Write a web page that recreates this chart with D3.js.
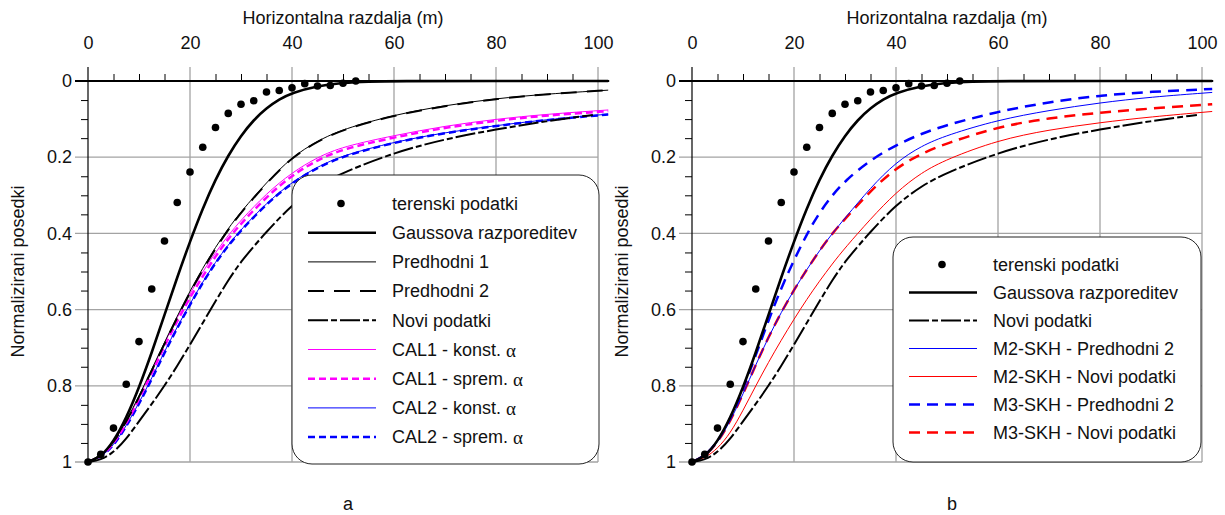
<!DOCTYPE html>
<html>
<head>
<meta charset="utf-8">
<script src="https://cdn.jsdelivr.net/npm/d3@7"></script>
<style>
body { margin: 0; background: #fff; }
text { font-family: "Liberation Sans", Arial, sans-serif; font-size: 18px; fill: #111; }
</style>
</head>
<body>
<svg id="chart" width="1225" height="515"></svg>
<script>
// ticks
var xTicks = [0, 20, 40, 60, 80, 100];
var yTicks = [0, 0.2, 0.4, 0.6, 0.8, 1];
var yTickLabels = ["0", "0.2", "0.4", "0.6", "0.8", "1"];

// terenski podatki
var fieldX = [0, 2.5, 5, 7.5, 10, 12.5, 15, 17.5, 20, 22.5, 25, 27.5, 30, 32.5, 35, 37.5, 40, 42.5, 45, 47.5, 50, 52.5];
var fieldY = [1, 0.98, 0.911, 0.796, 0.684, 0.546, 0.42, 0.319, 0.239, 0.174, 0.122, 0.085, 0.061, 0.052, 0.029, 0.025, 0.018, 0.007, 0.013, 0.012, 0.006, 0];

// Gaussova razporeditev
var gaussX = [0, 2.5, 5, 7.5, 10, 12.5, 15, 17.5, 20, 22.5, 25, 27.5, 30, 32.5, 35, 37.5, 40, 45, 50, 55, 60, 80, 102];
var gaussY = [1, 0.987, 0.947, 0.885, 0.805, 0.713, 0.614, 0.515, 0.421, 0.334, 0.258, 0.195, 0.143, 0.102, 0.071, 0.048, 0.031, 0.0125, 0.0045, 0.0014, 0, 0, 0];

// common x for the other curves
var curveX = [0, 2.5, 5, 7.5, 10, 12.5, 15, 17.5, 20, 22.5, 25, 27.5, 30, 35, 40, 45, 50, 60, 70, 80, 90, 102];
var noviX = [0, 2.5, 5, 7.5, 10, 12.5, 15, 17.5, 20, 22.5, 25, 27.5, 30, 35, 40, 45, 50, 60, 70, 80, 90, 99];

var pred1Y = [1, 0.985, 0.95, 0.893, 0.827, 0.756, 0.686, 0.617, 0.551, 0.491, 0.436, 0.387, 0.343, 0.266, 0.199, 0.157, 0.126, 0.089, 0.064, 0.046, 0.034, 0.024];
var pred2Y = [1, 0.985, 0.95, 0.895, 0.83, 0.76, 0.69, 0.62, 0.555, 0.495, 0.44, 0.39, 0.345, 0.268, 0.2, 0.158, 0.127, 0.09, 0.065, 0.047, 0.034, 0.024];
var noviY = [1, 0.995, 0.975, 0.94, 0.893, 0.848, 0.8, 0.748, 0.692, 0.635, 0.578, 0.523, 0.473, 0.395, 0.325, 0.275, 0.24, 0.188, 0.152, 0.127, 0.105, 0.089];
var cal1KonstY = [1, 0.985, 0.95, 0.895, 0.83, 0.76, 0.687, 0.62, 0.558, 0.5, 0.45, 0.405, 0.365, 0.295, 0.24, 0.2, 0.172, 0.143, 0.118, 0.1, 0.087, 0.076];
var cal1SpremY = [1, 0.987, 0.953, 0.9, 0.835, 0.767, 0.695, 0.63, 0.568, 0.512, 0.46, 0.414, 0.374, 0.304, 0.247, 0.207, 0.178, 0.148, 0.122, 0.104, 0.09, 0.079];
var cal2KonstY = [1, 0.988, 0.957, 0.905, 0.845, 0.78, 0.71, 0.645, 0.585, 0.527, 0.475, 0.43, 0.39, 0.32, 0.265, 0.225, 0.195, 0.16, 0.135, 0.117, 0.101, 0.087];
var cal2SpremY = [1, 0.988, 0.958, 0.907, 0.848, 0.783, 0.713, 0.648, 0.587, 0.529, 0.477, 0.432, 0.392, 0.322, 0.267, 0.227, 0.197, 0.161, 0.136, 0.118, 0.102, 0.088];

var m2PredY = [1, 0.985, 0.95, 0.893, 0.822, 0.745, 0.672, 0.607, 0.548, 0.495, 0.445, 0.4, 0.36, 0.28, 0.213, 0.17, 0.142, 0.102, 0.077, 0.057, 0.042, 0.03];
var m2NoviY = [1, 0.99, 0.965, 0.925, 0.865, 0.8, 0.738, 0.68, 0.625, 0.573, 0.525, 0.48, 0.438, 0.362, 0.292, 0.24, 0.205, 0.155, 0.128, 0.109, 0.094, 0.08];
var m3PredY = [1, 0.985, 0.948, 0.888, 0.81, 0.72, 0.628, 0.543, 0.47, 0.402, 0.345, 0.3, 0.262, 0.207, 0.168, 0.138, 0.115, 0.08, 0.055, 0.038, 0.028, 0.021];
var m3NoviY = [1, 0.985, 0.95, 0.893, 0.822, 0.745, 0.672, 0.607, 0.548, 0.495, 0.445, 0.4, 0.362, 0.288, 0.228, 0.19, 0.163, 0.12, 0.097, 0.083, 0.072, 0.061];

var leftNames = ["terenski podatki", "Gaussova razporeditev", "Predhodni 1", "Predhodni 2", "Novi podatki",
  "CAL1 - konst. α", "CAL1 - sprem. α", "CAL2 - konst. α", "CAL2 - sprem. α"];
var rightNames = ["terenski podatki", "Gaussova razporeditev", "Novi podatki",
  "M2-SKH - Predhodni 2", "M2-SKH - Novi podatki", "M3-SKH - Predhodni 2", "M3-SKH - Novi podatki"];

var svg = d3.select("#chart");

var styles = {
  gauss: { color: "#000", w: 2.6, dash: null },
  pred1: { color: "#000", w: 1, dash: null },
  pred2: { color: "#000", w: 2, dash: "16,10" },
  novi: { color: "#000", w: 2, dash: "20,3,6,3" },
  magThin: { color: "#ff00ff", w: 1, dash: null },
  magDash: { color: "#ff00ff", w: 2.5, dash: "7,4" },
  bluThin: { color: "#0000ff", w: 1, dash: null },
  bluDash: { color: "#0000ff", w: 2.5, dash: "7,4" },
  bluThin2: { color: "#0000ff", w: 1, dash: null },
  redThin: { color: "#ff0000", w: 1, dash: null },
  bluLong: { color: "#0000ff", w: 2.5, dash: "11,7" },
  redLong: { color: "#ff0000", w: 2.5, dash: "11,7" }
};

var panels = [
  {
    left: 88, letter: "a",
    box: { x: 292, y: 175, w: 307, h: 289 }, row0: 203.5, step: 29.2,
    series: [
      { name: leftNames[1], xs: gaussX, ys: gaussY, s: "gauss" },
      { name: leftNames[2], xs: curveX, ys: pred1Y, s: "pred1" },
      { name: leftNames[3], xs: curveX, ys: pred2Y, s: "pred2" },
      { name: leftNames[4], xs: noviX, ys: noviY, s: "novi" },
      { name: leftNames[5], xs: curveX, ys: cal1KonstY, s: "magThin" },
      { name: leftNames[6], xs: curveX, ys: cal1SpremY, s: "magDash" },
      { name: leftNames[7], xs: curveX, ys: cal2KonstY, s: "bluThin" },
      { name: leftNames[8], xs: curveX, ys: cal2SpremY, s: "bluDash" }
    ]
  },
  {
    left: 692, letter: "b",
    box: { x: 893, y: 237, w: 308, h: 225 }, row0: 264.5, step: 28,
    series: [
      { name: rightNames[1], xs: gaussX, ys: gaussY, s: "gauss" },
      { name: rightNames[2], xs: noviX, ys: noviY, s: "novi" },
      { name: rightNames[3], xs: curveX, ys: m2PredY, s: "bluThin2" },
      { name: rightNames[4], xs: curveX, ys: m2NoviY, s: "redThin" },
      { name: rightNames[5], xs: curveX, ys: m3PredY, s: "bluLong" },
      { name: rightNames[6], xs: curveX, ys: m3NoviY, s: "redLong" }
    ]
  }
];

function drawPanel(p) {
  var x = d3.scaleLinear().domain([0, 100]).range([p.left, p.left + 510]);
  var y = d3.scaleLinear().domain([0, 1]).range([81, 462]);
  var g = svg.append("g");

  // grid
  g.selectAll(".vg").data(xTicks.slice(1)).join("line")
    .attr("x1", d => x(d)).attr("x2", d => x(d))
    .attr("y1", y(0) - 14).attr("y2", y(1))
    .attr("stroke", "#a3a3a3").attr("stroke-width", 1.3);
  g.selectAll(".hg").data(yTicks.slice(1)).join("line")
    .attr("x1", x(0) - 13).attr("x2", x(100))
    .attr("y1", d => y(d)).attr("y2", d => y(d))
    .attr("stroke", "#a3a3a3").attr("stroke-width", 1.3);

  // minor ticks
  var minorX = d3.range(5, 101, 5).filter(d => d % 20 != 0);
  var minorY = d3.range(0.05, 1, 0.05).filter(d => Math.abs(d * 5 - Math.round(d * 5)) > 0.01);
  g.append("g").attr("transform", "translate(0," + y(0) + ")")
    .call(d3.axisTop(x).tickValues(minorX).tickSize(7).tickFormat(""))
    .call(a => a.select(".domain").remove());
  g.append("g").attr("transform", "translate(" + x(0) + ",0)")
    .call(d3.axisLeft(y).tickValues(minorY).tickSize(7).tickFormat(""))
    .call(a => a.select(".domain").remove());

  // tick labels
  var ax = g.append("g").attr("transform", "translate(0," + y(0) + ")")
    .call(d3.axisTop(x).tickValues(xTicks).tickSize(0).tickPadding(32).tickFormat(d3.format("d")));
  ax.select(".domain").remove();
  var ay = g.append("g").attr("transform", "translate(" + x(0) + ",0)")
    .call(d3.axisLeft(y).tickValues(yTicks).tickSize(0).tickPadding(16).tickFormat((d, i) => yTickLabels[i]));
  ay.select(".domain").remove();
  g.selectAll(".tick text").attr("font-size", null).attr("font-family", null).attr("fill", "#111");

  // axis lines
  g.append("line").attr("x1", x(0) - 13).attr("x2", x(102.2)).attr("y1", y(0)).attr("y2", y(0))
    .attr("stroke", "#000").attr("stroke-width", 1.8);
  g.append("line").attr("x1", x(0)).attr("x2", x(0)).attr("y1", y(0) - 14).attr("y2", y(1))
    .attr("stroke", "#000").attr("stroke-width", 1.2);

  // titles
  g.append("text").attr("x", x(50)).attr("y", 24).attr("text-anchor", "middle").text("Horizontalna razdalja (m)");
  g.append("text").attr("transform", "translate(" + (p.left - 64) + "," + ((y(0) + y(1)) / 2) + ") rotate(-90)")
    .attr("text-anchor", "middle").text("Normalizirani posedki");
  g.append("text").attr("x", p.left + 260).attr("y", 510).attr("text-anchor", "middle").text(p.letter);

  // curves
  var line = d3.line().curve(d3.curveBasis);
  p.series.slice().reverse().forEach(function (sr) {
    var st = styles[sr.s];
    var pts = sr.xs.map((v, i) => [x(v), y(sr.ys[i])]);
    g.append("path").attr("d", line(pts)).attr("fill", "none")
      .attr("stroke", st.color).attr("stroke-width", st.w)
      .attr("stroke-dasharray", st.dash);
  });

  // field points
  g.selectAll(".pt").data(fieldX).join("circle")
    .attr("cx", d => x(d)).attr("cy", (d, i) => y(fieldY[i])).attr("r", 3.8).attr("fill", "#000");

  // legend
  var b = p.box;
  var lg = g.append("g");
  lg.append("rect").attr("x", b.x).attr("y", b.y).attr("width", b.w).attr("height", b.h)
    .attr("rx", 20).attr("fill", "#fff").attr("stroke", "#222").attr("stroke-width", 1);
  var rows = [{ name: "terenski podatki", s: null }].concat(p.series);
  rows.forEach(function (r, i) {
    var cy = p.row0 + i * p.step;
    if (r.s == null) {
      lg.append("circle").attr("cx", b.x + 49).attr("cy", cy).attr("r", 3.8).attr("fill", "#000");
    } else {
      var st = styles[r.s];
      lg.append("line").attr("x1", b.x + 16).attr("x2", b.x + 84).attr("y1", cy).attr("y2", cy)
        .attr("stroke", st.color).attr("stroke-width", st.w).attr("stroke-dasharray", st.dash);
    }
    var t = lg.append("text").attr("x", b.x + 100).attr("y", cy).attr("dy", "0.35em");
    var parts = r.name.split("α");
    t.append("tspan").text(parts[0]);
    if (parts.length > 1) {
      t.append("tspan").attr("font-family", "'Liberation Serif', serif").attr("font-size", "19px").attr("dy", "1").text("α");
    }
  });
}

panels.forEach(drawPanel);
</script>
</body>
</html>
